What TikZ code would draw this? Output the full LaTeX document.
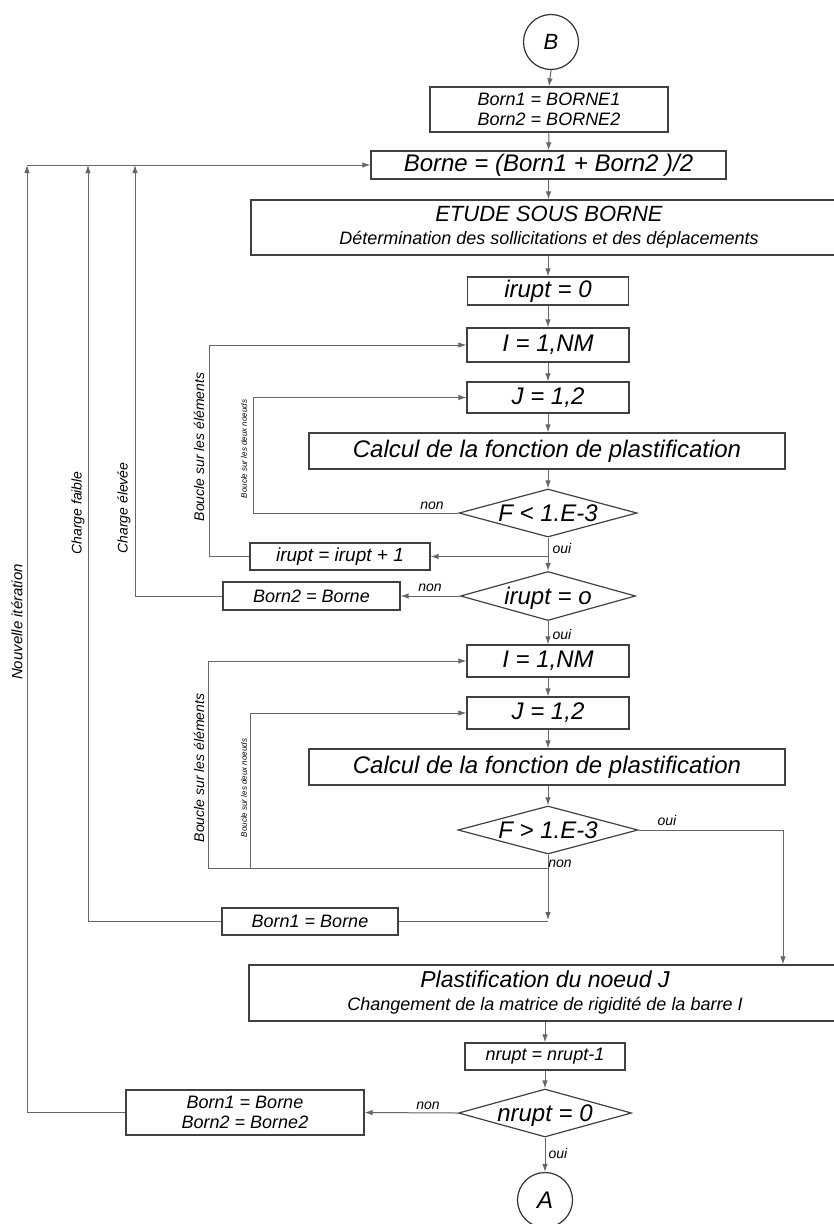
\documentclass[tikz,border=0pt]{standalone}
\usepackage{fontspec}
\setmainfont{Liberation Sans}
\usetikzlibrary{shapes.geometric,arrows.meta}
\newcommand\fsz[2]{\fontsize{#1}{#2}\selectfont}
\newcommand\dtext[1]{\makebox[0pt]{\raisebox{-0.36em}[0pt][0pt]{#1}}}
\begin{document}
\begin{tikzpicture}[x=1pt,y=-1pt,
  box/.style={draw=black!75, line width=1.2pt, rectangle, inner sep=0pt, align=center, font=\itshape\fsz{24}{28}},
  smallbox/.style={box, font=\itshape\fsz{18}{20}},
  dec/.style={draw=black!75, line width=1.2pt, diamond, inner sep=0pt, font=\itshape\fsz{24}{28}},
  term/.style={draw=black!80, line width=1.2pt, circle, inner sep=0pt, minimum size=55pt, font=\itshape\fsz{22}{26}},
  conn/.style={draw=black!60, line width=1pt},
  arr/.style={conn, -{Latex[length=8pt,width=5.5pt]}},
  lab/.style={font=\itshape\fsz{14}{16}, inner sep=0pt},
  vlab/.style={font=\itshape\fsz{14}{16}, rotate=90, inner sep=0pt},
  slab/.style={font=\itshape\fsz{8}{9}, rotate=90, inner sep=0pt},
]
\useasboundingbox (0,0) rectangle (834,1224);

% main column
\node[term] (B) at (551,42) {B};
\node[smallbox, minimum width=238pt, minimum height=45pt] (ini) at (549,109.5) {Born1 = BORNE1\\Born2 = BORNE2};
\node[box, minimum width=355pt, minimum height=28pt] (borne) at (548.5,165) {Borne = (Born1 + Born2 )/2};
\node[box, minimum width=596pt, minimum height=55pt, font=\itshape\fsz{22}{23}] (etude) at (549,227.5)
  {ETUDE SOUS BORNE\\{\fsz{18}{20}Détermination des sollicitations et des déplacements}};
\node[box, minimum width=161pt, minimum height=28pt] (ir0) at (548,291) {irupt = 0};
\node[box, minimum width=162pt, minimum height=34pt] (I1) at (548,345) {I = 1,NM};
\node[box, minimum width=162pt, minimum height=31pt] (J1) at (548,397.5) {J = 1,2};
\node[box, minimum width=476pt, minimum height=36pt] (calc1) at (547,451) {Calcul de la fonction de plastification};
\node[dec, minimum width=178pt, minimum height=48pt] (d1) at (548,513) {\dtext{F < 1.E-3}};
\node[box, minimum width=180pt, minimum height=27pt, font=\itshape\fsz{19}{22}] (inc) at (340,556.5) {irupt = irupt + 1};
\node[dec, minimum width=175pt, minimum height=49pt] (d2) at (548,596) {\dtext{irupt = o}};
\node[smallbox, minimum width=177pt, minimum height=28pt] (b2) at (311.5,596) {Born2 = Borne};
\node[box, minimum width=162pt, minimum height=32pt] (I2) at (548,661) {I = 1,NM};
\node[box, minimum width=162pt, minimum height=32pt] (J2) at (548,713) {J = 1,2};
\node[box, minimum width=476pt, minimum height=36pt] (calc2) at (547,767) {Calcul de la fonction de plastification};
\node[dec, minimum width=180pt, minimum height=48pt] (d3) at (548,830) {\dtext{F > 1.E-3}};
\node[smallbox, minimum width=176pt, minimum height=27pt] (b1b) at (310,921.5) {Born1 = Borne};
\node[box, minimum width=592pt, minimum height=56pt, font=\itshape\fsz{23}{23}] (plast) at (545,993)
  {Plastification du noeud J\\{\fsz{18}{20}Changement de la matrice de rigidité de la barre I}};
\node[smallbox, minimum width=160pt, minimum height=27pt] (nr) at (545,1056.5) {nrupt = nrupt-1};
\node[dec, minimum width=173pt, minimum height=48pt] (d4) at (545,1113) {\dtext{nrupt = 0}};
\node[smallbox, minimum width=238pt, minimum height=45pt] (b3) at (245,1112.5) {Born1 = Borne\\Born2 = Borne2};
\node[term, font=\itshape\fsz{24}{28}] (A) at (545,1200) {A};

% return lines
\coordinate (top1) at (27,165);
\coordinate (top2) at (88,165);
\coordinate (top3) at (135,165);
\draw[arr] (top1) -- (borne.west);
\draw[arr] (b3.west) -| (top1);
\draw[arr] (b1b.west) -| (top2);
\draw[arr] (b2.west) -| (top3);

% main flow
\draw[arr] (B.south) -- (ini.north);
\draw[arr] (ini.south) -- (borne.north);
\draw[arr] (borne.south) -- (borne.south |- etude.north);
\draw[arr] (ir0.north |- etude.south) -- (ir0.north);
\draw[arr] (ir0.south) -- (I1.north);
\draw[arr] (I1.south) -- (J1.north);
\draw[arr] (J1.south) -- (J1.south |- calc1.north);
\draw[arr] (d1.north |- calc1.south) -- (d1.north);
\draw[arr] (d1.south) -- (d2.north);
\coordinate (br1) at (d1.south |- inc.east);
\draw[arr] (br1) -- (inc.east);
\draw[arr] (inc.west) -- ++(-40,0) |- (I1.west);
\draw[arr] (d1.west) -- ++(-205,0) |- (J1.west);
\draw[arr] (d2.west) -- (b2.east);
\draw[arr] (d2.south) -- (I2.north);
\draw[arr] (I2.south) -- (J2.north);
\draw[arr] (J2.south) -- (J2.south |- calc2.north);
\draw[arr] (d3.north |- calc2.south) -- (d3.north);
\coordinate (oc) at (783,830);
\draw[arr] (d3.east) -- (oc) -- (oc |- plast.north);
\coordinate (nj) at (548,920);
\draw[arr] (d3.south) -- (nj);
\coordinate (lj) at (548,868);
\coordinate (lo2) at (208,868);
\coordinate (li2) at (250,868);
\draw[conn] (lj) -- (lo2);
\draw[arr] (lo2) |- (I2.west);
\draw[arr] (li2) |- (J2.west);
\draw[conn] (b1b.east) -- (nj |- b1b.east);
\draw[arr] (nr.north |- plast.south) -- (nr.north);
\draw[arr] (nr.south) -- (d4.north);
\draw[arr] (d4.west) -- (b3.east);
\draw[arr] (d4.south) -- (A.north);

% branch labels
\node[lab] (n1) at (432,506) {non};
\node[lab] (o1) at (562,548) {oui};
\node[lab] (n2) at (430,588) {non};
\node[lab] (o2) at (562,634) {oui};
\node[lab] (o3) at (667,820) {oui};
\node[lab] (n3) at (560,864) {non};
\node[lab] (n4) at (428,1106) {non};
\node[lab] (o4) at (558,1153) {oui};

% vertical labels
\node[vlab, font=\itshape\fsz{15}{17}] (lnouv) at (17,622) {Nouvelle itération};
\node[vlab] (lfaib) at (78,513) {Charge faible};
\node[vlab] (lelev) at (124,508) {Charge élevée};
\node[vlab] (lbou1) at (199,447) {Boucle sur les éléments};
\node[slab] (lpt1) at (244,449) {Boucle sur les deux noeuds};
\node[vlab] (lbou2) at (199,768) {Boucle sur les éléments};
\node[slab] (lpt2) at (244,788) {Boucle sur les deux noeuds};
\end{tikzpicture}
\end{document}
